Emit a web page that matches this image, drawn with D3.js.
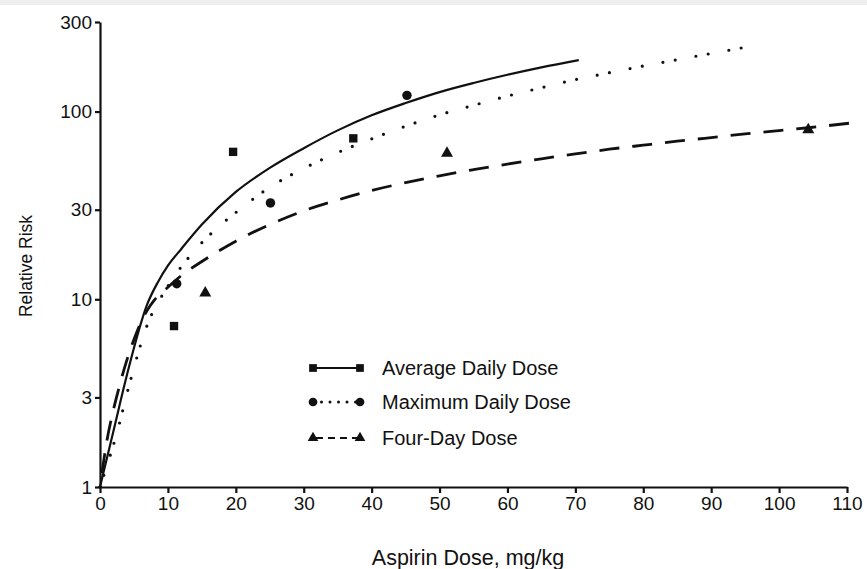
<!DOCTYPE html>
<html>
<head>
<meta charset="utf-8">
<script src="https://cdn.jsdelivr.net/npm/d3@7"></script>
<style>
  body { margin: 0; background: #fff; }
  svg { font-family: "Liberation Sans", Arial, Helvetica, sans-serif; }
</style>
</head>
<body>
<div id="chart"></div>
<script>
const width = 867;
const height = 569;

// fitted curves: [dose, relative risk]
const averageCurve = [[0,1],[2,2.0],[4,4],[7,9.5],[8.5,12.3],[10,15.1],[12,18.6],[15,25],[20,37.3],[25,50.1],[30,63.8],[35,79.4],[40,95.5],[45,111],[50,127],[55,142],[60,157],[65,172],[70.5,188]];
const maximumCurve = [[0,1],[2.5,1.95],[4.4,3.6],[6.9,7.2],[9.9,11.6],[13.6,17.6],[17.1,23.7],[20,29],[25,39.5],[30,49.8],[35,60.5],[40,71.5],[45,83.5],[50,96],[55,108],[60,121],[65,134],[70,148],[75,161],[80,175],[85,189],[90,204],[95.3,221]];
const fourDayCurve = [[0,1],[1,1.75],[2,2.6],[3,3.6],[4,4.8],[5,6.1],[6,7.5],[7,8.8],[8,9.9],[10,11.6],[12,13.4],[15,15.9],[20,20.4],[25,25],[30,29.6],[35,33.8],[40,38],[45,41.8],[50,45.5],[55,49],[60,52.5],[65,56],[70,59.5],[75,63],[80,66.2],[85,69.5],[90,72.7],[95,76],[100,79.2],[104.3,82],[110.7,87]];

// observed points
const averagePoints = [[10.9,7.2],[19.6,61],[37.3,72]];
const maximumPoints = [[11.3,12.1],[25.1,32.6],[45.2,122]];
const fourDayPoints = [[15.5,10.8],[51.1,60],[104.3,80]];

const xTicks = [0,10,20,30,40,50,60,70,80,90,100,110];
const yTicks = [1,3,10,30,100,300];
const legendLabels = ["Average Daily Dose", "Maximum Daily Dose", "Four-Day Dose"];

const svg = d3.select("#chart")
    .append("svg")
    .attr("width", width)
    .attr("height", height);

// faint grey strip along the top of the scan
svg.append("rect")
    .attr("x", 0).attr("y", 0)
    .attr("width", width).attr("height", 5)
    .attr("fill", "#eeeeee");

const x = d3.scaleLinear().domain([0, 110]).range([100, 847]);
const y = d3.scaleLog().domain([1, 300]).range([487, 22]);

const xAxis = svg.append("g")
    .attr("transform", `translate(0,${y(1)})`)
    .call(d3.axisBottom(x).tickValues(xTicks).tickSize(6).tickSizeOuter(0).tickPadding(4));

const yAxis = svg.append("g")
    .attr("transform", `translate(${x(0)},0)`)
    .call(d3.axisLeft(y).tickValues(yTicks).tickSize(5).tickSizeOuter(0).tickPadding(3).tickFormat(d3.format("d")));

[xAxis, yAxis].forEach(g => {
    g.select(".domain").attr("stroke", "#111").attr("stroke-width", 2.2);
    g.selectAll(".tick line").attr("stroke", "#111").attr("stroke-width", 2.2);
    g.selectAll(".tick text")
        .attr("fill", "#111")
        .style("font-size", "19px")
        .style("font-family", "'Liberation Sans', Arial, sans-serif");
});

svg.append("text")
    .attr("x", 468)
    .attr("y", 565)
    .attr("text-anchor", "middle")
    .attr("fill", "#111")
    .style("font-size", "21.5px")
    .text("Aspirin Dose, mg/kg");

svg.append("text")
    .attr("transform", "translate(32,266) rotate(-90)")
    .attr("text-anchor", "middle")
    .attr("fill", "#111")
    .style("font-size", "17.5px")
    .text("Relative Risk");

const line = d3.line()
    .x(d => x(d[0]))
    .y(d => y(d[1]))
    .curve(d3.curveMonotoneX);

svg.append("path")
    .datum(averageCurve)
    .attr("d", line)
    .attr("fill", "none")
    .attr("stroke", "#111")
    .attr("stroke-width", 2.2);

svg.append("path")
    .datum(maximumCurve)
    .attr("d", line)
    .attr("fill", "none")
    .attr("stroke", "#111")
    .attr("stroke-width", 3.2)
    .attr("stroke-linecap", "round")
    .attr("stroke-dasharray", "0,12.5,0,21");

svg.append("path")
    .datum(fourDayCurve)
    .attr("d", line)
    .attr("fill", "none")
    .attr("stroke", "#111")
    .attr("stroke-width", 2.8)
    .attr("stroke-dasharray", "20,13")
    .attr("stroke-dashoffset", -14);

const square = d3.symbol().type(d3.symbolSquare).size(70);
const circle = d3.symbol().type(d3.symbolCircle).size(70);
const triangle = d3.symbol().type(d3.symbolTriangle).size(62);

function drawPoints(data, sym) {
    svg.append("g").selectAll("path")
        .data(data)
        .enter()
        .append("path")
        .attr("d", sym)
        .attr("transform", d => `translate(${x(d[0])},${y(d[1])})`)
        .attr("fill", "#111");
}
drawPoints(averagePoints, square);
drawPoints(maximumPoints, circle);
drawPoints(fourDayPoints, triangle);

// legend
const legend = svg.append("g");
const legendRows = [
    { type: d3.symbolSquare, size: 60, dash: null, width: 2 },
    { type: d3.symbolCircle, size: 60, dash: "0,8.5", width: 3 },
    { type: d3.symbolTriangle, size: 50, dash: "7,5", width: 2 }
];
const rowY = [368, 402, 438];
legendRows.forEach((r, i) => {
    const ly = rowY[i];
    legend.append("line")
        .attr("x1", 313).attr("x2", 360)
        .attr("y1", ly).attr("y2", ly)
        .attr("stroke", "#111")
        .attr("stroke-width", r.width)
        .attr("stroke-linecap", i === 1 ? "round" : "butt")
        .attr("stroke-dasharray", r.dash)
        .attr("stroke-dashoffset", i === 2 ? -3 : 0);
    [313, 360].forEach(px => {
        legend.append("path")
            .attr("d", d3.symbol().type(r.type).size(r.size))
            .attr("transform", `translate(${px},${ly})`)
            .attr("fill", "#111");
    });
    legend.append("text")
        .attr("x", 382)
        .attr("y", ly + 7)
        .attr("fill", "#111")
        .style("font-size", "20px")
        .text(legendLabels[i]);
});
</script>
</body>
</html>
